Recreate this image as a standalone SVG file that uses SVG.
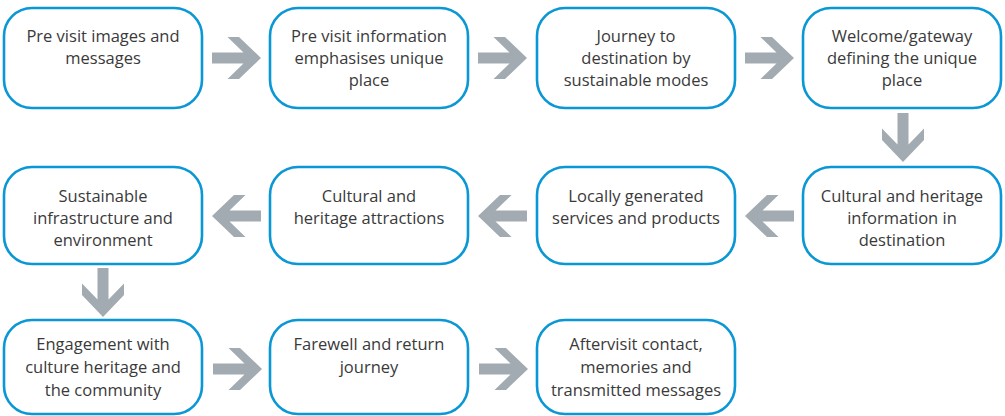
<svg xmlns="http://www.w3.org/2000/svg" width="1005" height="416" viewBox="0 0 1005 416">
<style>
.box{fill:#fff;stroke:#0a97d5;stroke-width:2.6}
.t{font-family:"Open Sans","Liberation Sans",sans-serif;font-size:16.5px;fill:#3a3a3a;text-anchor:middle}
.arr{fill:#a3abb2}
</style>
<defs>
<path id="arrow" class="arr" d="M0,-5.5 H31.5 L15.5,-21 H27 L49,0 L27,21 H15.5 L31.5,5.5 H0 Z"/>
</defs>
<rect width="1005" height="416" fill="#fff"/>
<g id="connectors">
<use href="#arrow" transform="translate(212,58)"/>
<use href="#arrow" transform="translate(478,58)"/>
<use href="#arrow" transform="translate(745,58)"/>
<use href="#arrow" transform="translate(903,113) rotate(90)"/>
<use href="#arrow" transform="translate(794,216) rotate(180)"/>
<use href="#arrow" transform="translate(527,216) rotate(180)"/>
<use href="#arrow" transform="translate(261,216) rotate(180)"/>
<use href="#arrow" transform="translate(103,268) rotate(90)"/>
<use href="#arrow" transform="translate(213,369)"/>
<use href="#arrow" transform="translate(479,369)"/>
</g>
<g id="n1"><rect class="box" x="4" y="8" width="198" height="100" rx="28"/>
<text class="t" x="103" y="42">Pre visit images and</text><text class="t" x="103" y="64">messages</text></g>
<g id="n2"><rect class="box" x="270" y="8" width="198" height="100" rx="28"/>
<text class="t" x="369" y="42">Pre visit information</text><text class="t" x="369" y="64">emphasises unique</text><text class="t" x="369" y="86">place</text></g>
<g id="n3"><rect class="box" x="537" y="8" width="198" height="100" rx="28"/>
<text class="t" x="636" y="42">Journey to</text><text class="t" x="636" y="64">destination by</text><text class="t" x="636" y="86">sustainable modes</text></g>
<g id="n4"><rect class="box" x="803" y="8" width="198" height="100" rx="28"/>
<text class="t" x="902" y="42">Welcome/gateway</text><text class="t" x="902" y="64">defining the unique</text><text class="t" x="902" y="86">place</text></g>
<g id="n5"><rect class="box" x="803" y="167" width="198" height="97" rx="28"/>
<text class="t" x="902" y="202">Cultural and heritage</text><text class="t" x="902" y="224">information in</text><text class="t" x="902" y="246">destination</text></g>
<g id="n6"><rect class="box" x="537" y="167" width="198" height="97" rx="28"/>
<text class="t" x="636" y="202">Locally generated</text><text class="t" x="636" y="224">services and products</text></g>
<g id="n7"><rect class="box" x="270" y="167" width="198" height="97" rx="28"/>
<text class="t" x="369" y="202">Cultural and</text><text class="t" x="369" y="224">heritage attractions</text></g>
<g id="n8"><rect class="box" x="4" y="167" width="198" height="97" rx="28"/>
<text class="t" x="103" y="202">Sustainable</text><text class="t" x="103" y="224">infrastructure and</text><text class="t" x="103" y="246">environment</text></g>
<g id="n9"><rect class="box" x="4" y="320" width="198" height="94" rx="28"/>
<text class="t" x="103" y="350">Engagement with</text><text class="t" x="103" y="373">culture heritage and</text><text class="t" x="103" y="396">the community</text></g>
<g id="n10"><rect class="box" x="270" y="320" width="198" height="94" rx="28"/>
<text class="t" x="369" y="350">Farewell and return</text><text class="t" x="369" y="373">journey</text></g>
<g id="n11"><rect class="box" x="537" y="320" width="198" height="94" rx="28"/>
<text class="t" x="636" y="350">Aftervisit contact,</text><text class="t" x="636" y="373">memories and</text><text class="t" x="636" y="396">transmitted messages</text></g>
</svg>
